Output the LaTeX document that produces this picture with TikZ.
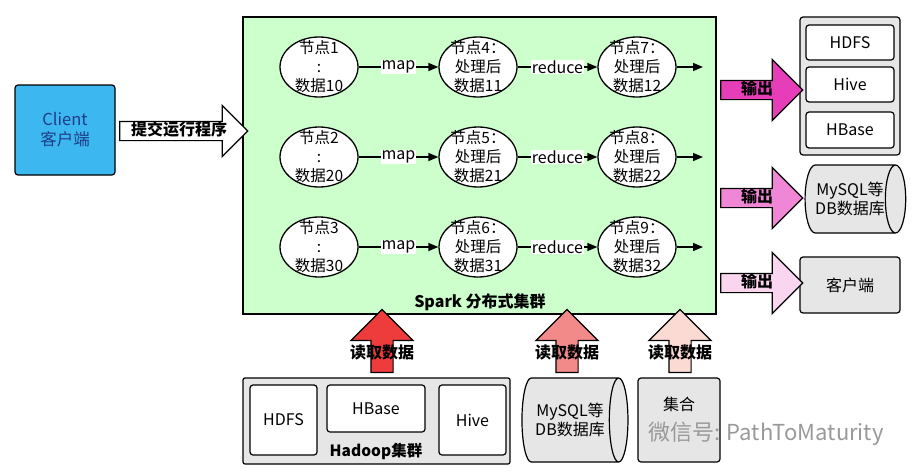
\documentclass[tikz,border=0pt]{standalone}
\usepackage{fontspec}
\setmainfont{Noto Sans CJK SC}
\usepackage{xcolor}
\usetikzlibrary{arrows.meta,shapes.geometric,shapes.arrows}

\definecolor{clientblue}{HTML}{3DB7EF}
\definecolor{clienttext}{HTML}{1F3C88}
\definecolor{sparkgreen}{HTML}{CCFFCC}
\definecolor{boxgray}{HTML}{E6E6E6}
\definecolor{outA}{HTML}{E63DB9}
\definecolor{outB}{HTML}{F086D6}
\definecolor{outC}{HTML}{FAD5F0}
\definecolor{inA}{HTML}{EE3B3B}
\definecolor{inB}{HTML}{F38A8A}
\definecolor{inC}{HTML}{FCDAD4}

\begin{document}
\begin{tikzpicture}[x=1pt, y=-1pt,
  font=\fontsize{16}{19}\selectfont,
  proc/.style={ellipse, draw, line width=1.3pt, fill=white, minimum width=78pt, minimum height=60pt, inner sep=0pt},
  proclbl/.style={align=center, inner sep=0pt, font=\fontsize{15.5}{19}\selectfont},
  box/.style={rectangle, draw, line width=1.2pt, rounded corners=3pt, fill=white, inner sep=0pt, align=center},
  graybox/.style={box, fill=boxgray},
  db/.style={cylinder, draw, line width=1.2pt, fill=boxgray, inner sep=0pt, align=center},
  flow/.style={-{Triangle[length=10pt, width=8pt]}, line width=1.3pt},
  flowlbl/.style={fill=white, inner sep=1pt},
  bigarrow/.style={single arrow, draw, line width=1.2pt, inner xsep=0pt, inner ysep=0pt, text height=13pt, text depth=5pt, font=\fontsize{16}{18}\selectfont\bfseries},
  uparrow/.style={single arrow, draw, line width=1.2pt, rotate=90, minimum height=63pt, inner sep=10.5pt, single arrow head extend=20pt},
  uplbl/.style={font=\fontsize{16}{18}\selectfont\bfseries, inner sep=0pt}
]
\useasboundingbox (0,0) rectangle (913,474);

% client and spark cluster
\node[box, fill=clientblue, text=clienttext, font=\fontsize{16.5}{20}\selectfont, minimum width=100pt, minimum height=90pt] (client) at (65,130) {Client\\客户端};
\node[rectangle, draw, line width=1.2pt, fill=sparkgreen, minimum width=473pt, minimum height=297pt] (spark) at (479.5,165.5) {};
\node[font=\fontsize{16}{18}\selectfont\bfseries, inner sep=0pt] (sparklbl) at (480,302) {Spark 分布式集群};
\node[bigarrow, fill=white, minimum height=128pt, single arrow head extend=16pt] (submit) at (179,131) {提交运行程序};

% nodes in the cluster
\node[proc, label={[proclbl]center:节点1\\:\\数据10}] (n1) at (319,67) {};
\node[proc, label={[proclbl]center:节点4：\\处理后\\数据11}] (n4) at (478,67) {};
\node[proc, label={[proclbl]center:节点7：\\处理后\\数据12}] (n7) at (637,67) {};
\node[proc, label={[proclbl]center:节点2\\:\\数据20}] (n2) at (319,157) {};
\node[proc, label={[proclbl]center:节点5：\\处理后\\数据21}] (n5) at (478,157) {};
\node[proc, label={[proclbl]center:节点8：\\处理后\\数据22}] (n8) at (637,157) {};
\node[proc, label={[proclbl]center:节点3\\:\\数据30}] (n3) at (319,247) {};
\node[proc, label={[proclbl]center:节点6：\\处理后\\数据31}] (n6) at (478,247) {};
\node[proc, label={[proclbl]center:节点9：\\处理后\\数据32}] (n9) at (637,247) {};
\coordinate (e7) at (703,67);
\coordinate (e8) at (703,157);
\coordinate (e9) at (703,247);

\draw[flow] (n1) -- node[flowlbl] {map} (n4);
\draw[flow] (n4) -- node[flowlbl] {reduce} (n7);
\draw[flow] (n7) -- (e7);
\draw[flow] (n2) -- node[flowlbl] {map} (n5);
\draw[flow] (n5) -- node[flowlbl] {reduce} (n8);
\draw[flow] (n8) -- (e8);
\draw[flow] (n3) -- node[flowlbl] {map} (n6);
\draw[flow] (n6) -- node[flowlbl] {reduce} (n9);
\draw[flow] (n9) -- (e9);

% outputs
\node[graybox, minimum width=100pt, minimum height=138pt] (store) at (850,86) {};
\node[box, minimum width=88pt, minimum height=35pt] (hdfsout) at (850,42.5) {HDFS};
\node[box, minimum width=88pt, minimum height=35pt] (hiveout) at (850,84.5) {Hive};
\node[box, minimum width=88pt, minimum height=36pt] (hbaseout) at (850,130) {HBase};
\node[db, aspect=0.6, minimum width=68pt, minimum height=100pt] (dbout) at (850,199) {MySQL等\\DB数据库};
\node[graybox, minimum width=100pt, minimum height=56pt] (clientout) at (850,285) {客户端};

\node[bigarrow, fill=outA, minimum height=82pt, single arrow head extend=21pt] (outa) at (757,90) {输出};
\node[bigarrow, fill=outB, minimum height=82pt, single arrow head extend=21pt] (outb) at (757,198) {输出};
\node[bigarrow, fill=outC, minimum height=82pt, single arrow head extend=21pt] (outc) at (757,283) {输出};

% data sources
\node[graybox, rounded corners=2pt, minimum width=267pt, minimum height=86pt] (hadoop) at (376.5,421) {};
\node[box, minimum width=67pt, minimum height=70pt] (hdfsin) at (283.5,420) {HDFS};
\node[box, minimum width=98pt, minimum height=47pt] (hbasein) at (376,408.5) {HBase};
\node[box, minimum width=67pt, minimum height=70pt] (hivein) at (472.5,420) {Hive};
\node[font=\fontsize{15.5}{18}\selectfont\bfseries, inner sep=0pt] (hadooplbl) at (376,451) {Hadoop集群};
\node[db, aspect=0.55, minimum width=84pt, minimum height=106pt] (dbin) at (570,420) {MySQL等\\DB数据库};
\node[graybox, minimum width=82pt, minimum height=84pt] (setin) at (679,420) {};
\node[inner sep=0pt] (setlbl) at (679,404) {集合};

\node[uparrow, fill=inA] (ina) at (382,346.5) {};
\node[uparrow, fill=inB] (inb) at (567,346.5) {};
\node[uparrow, fill=inC] (inc) at (680,346.5) {};
\node[uplbl] (inalbl) at (382,352) {读取数据};
\node[uplbl] (inblbl) at (567,352) {读取数据};
\node[uplbl] (inclbl) at (680,352) {读取数据};

\node[text=black!40, font=\fontsize{22}{24}\selectfont, inner sep=0pt] (wm) at (766,434) {微信号: PathToMaturity};
\end{tikzpicture}
\end{document}
